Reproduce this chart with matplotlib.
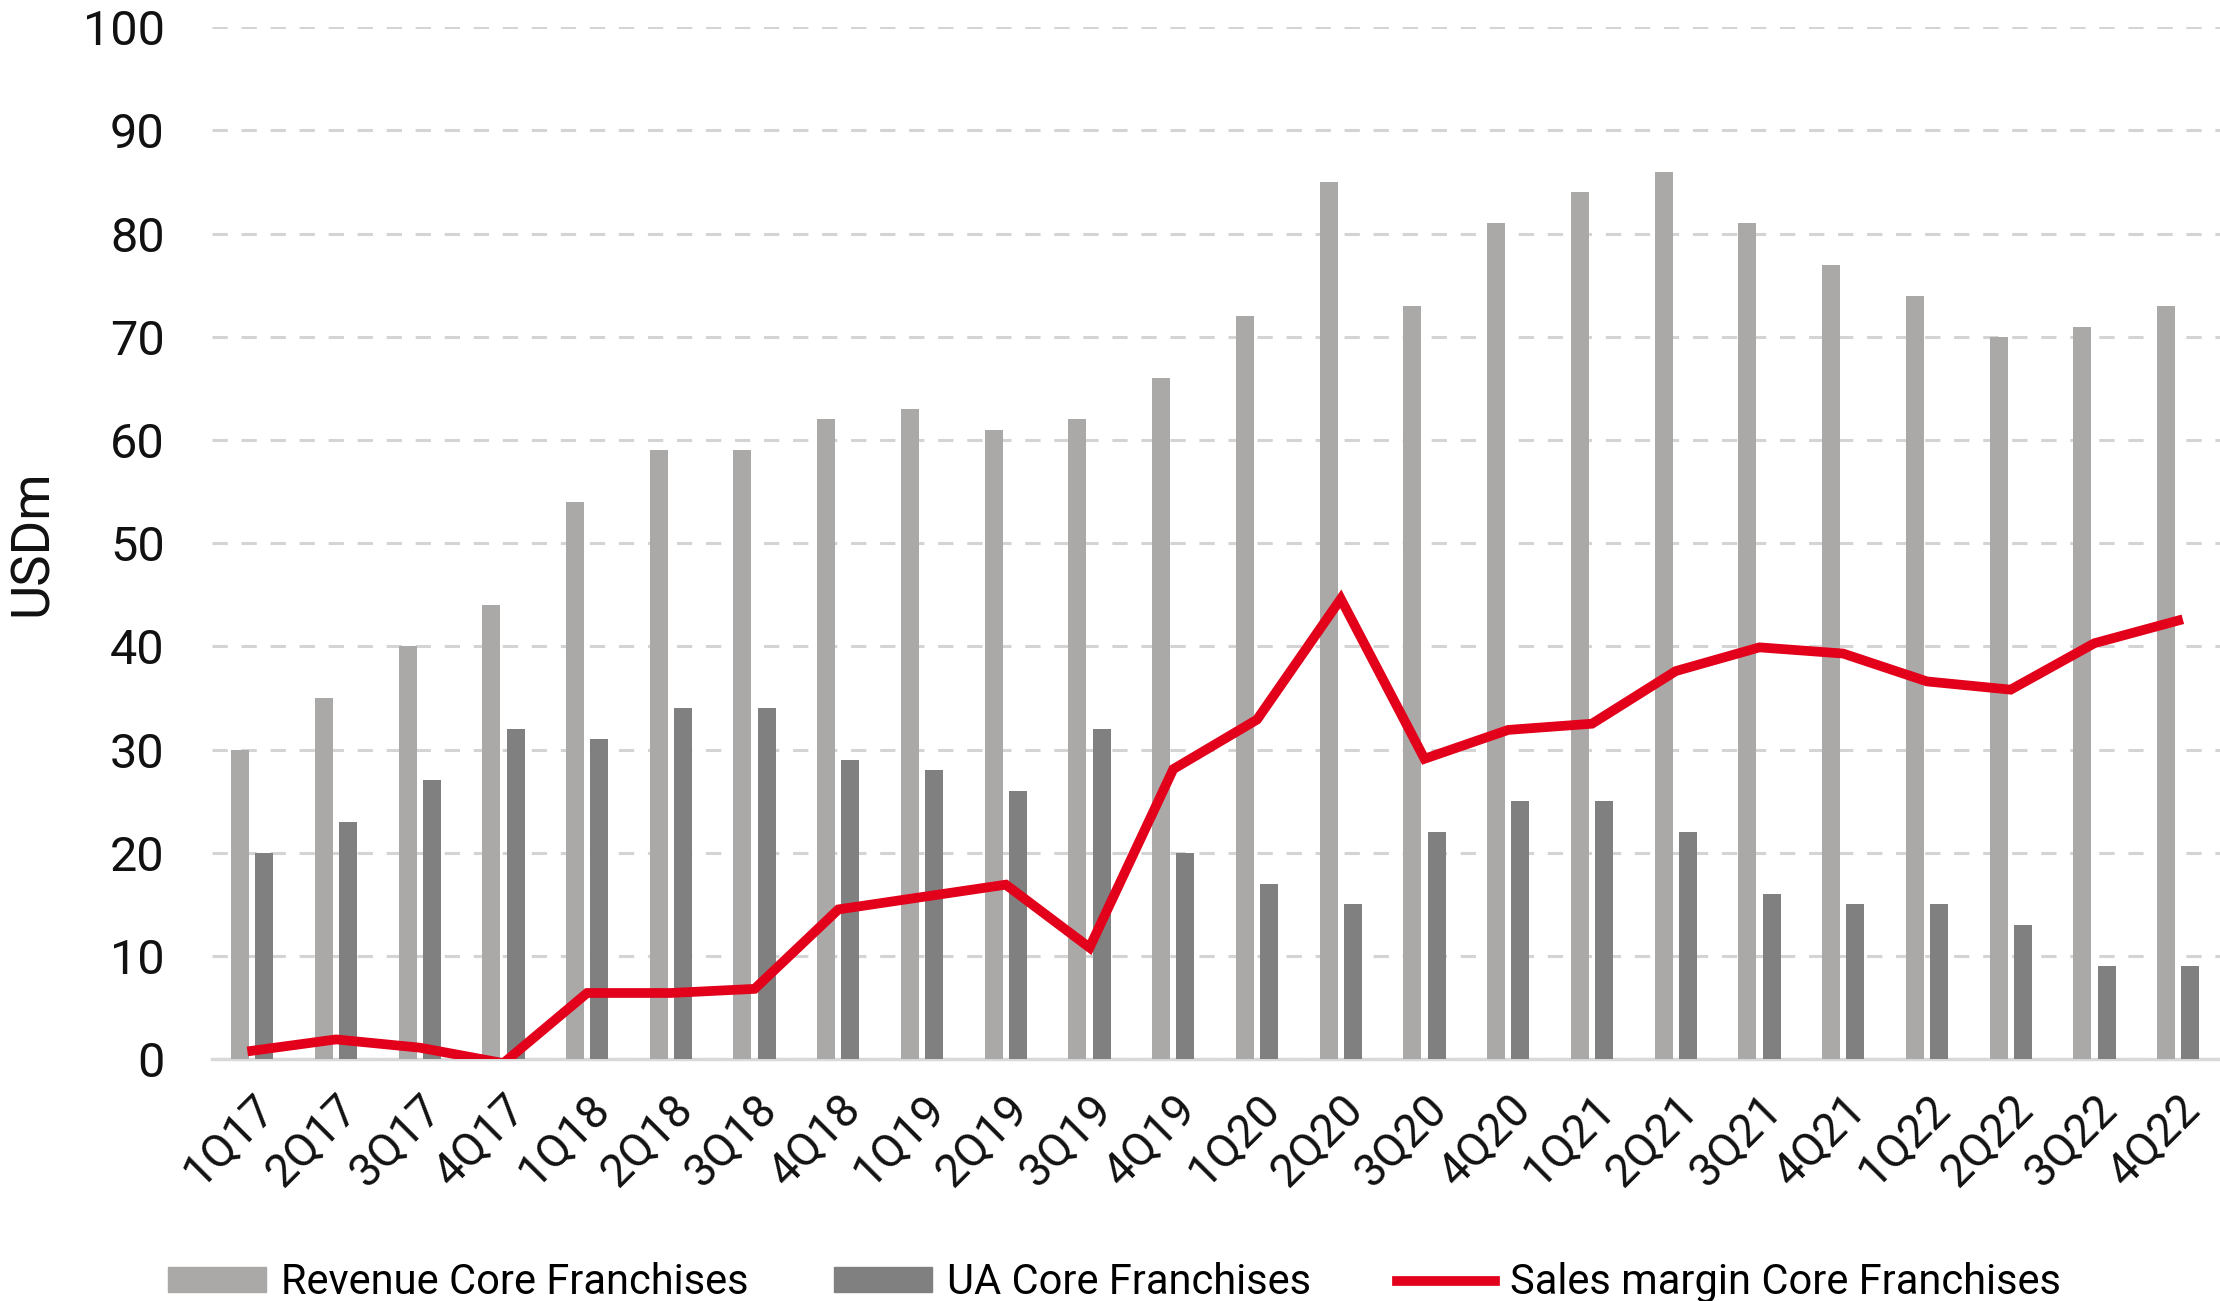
import numpy as np
import matplotlib.pyplot as plt
from matplotlib import font_manager
from matplotlib.lines import Line2D
from matplotlib.patches import Patch

quarters = ["1Q17", "2Q17", "3Q17", "4Q17", "1Q18", "2Q18", "3Q18", "4Q18",
            "1Q19", "2Q19", "3Q19", "4Q19", "1Q20", "2Q20", "3Q20", "4Q20",
            "1Q21", "2Q21", "3Q21", "4Q21", "1Q22", "2Q22", "3Q22", "4Q22"]
revenue = [30, 35, 40, 44, 54, 59, 59, 62, 63, 61, 62, 66,
           72, 85, 73, 81, 84, 86, 81, 77, 74, 70, 71, 73]
ua = [20, 23, 27, 32, 31, 34, 34, 29, 28, 26, 32, 20,
      17, 15, 22, 25, 25, 22, 16, 15, 15, 13, 9, 9]
sales_margin = [0.8, 1.9, 1.1, -0.4, 6.4, 6.4, 6.8, 14.5, 15.7, 16.9, 10.8, 28.1,
                32.9, 44.6, 29.1, 31.9, 32.5, 37.6, 39.9, 39.3, 36.6, 35.8, 40.3, 42.5]

plt.rcParams['font.family'] = ['Roboto', 'DejaVu Sans']

# narrow face for the legend if there is one
names = {f.name for f in font_manager.fontManager.ttflist}
if 'Liberation Sans Narrow' in names:
    legend_family = ['Liberation Sans Narrow', 'DejaVu Sans']
    legend_size = 37
else:
    legend_family = ['Roboto', 'DejaVu Sans']
    legend_size = 30

rev_color = '#aba8a8'
ua_color = '#808080'
red = '#e2001a'

fig = plt.figure(figsize=(22.2, 13.01), dpi=100)
ax = fig.add_axes([0.0955, 0.186, 0.9045, 0.793])

x = np.arange(len(quarters))
w = 0.215
ax.bar(x - 0.145, revenue, width=w, color=rev_color, zorder=2)
ax.bar(x + 0.145, ua, width=w, color=ua_color, zorder=2)
ax.plot(x, sales_margin, color=red, linewidth=7, zorder=3, solid_joinstyle='miter')

ax.set_xlim(-0.48, 23.5)
ax.set_ylim(0, 100)
ax.set_yticks(range(0, 101, 10))
ax.yaxis.grid(True, color='#d4d4d4', linewidth=2.2, linestyle=(0, (5, 4.5)), zorder=0)
ax.set_axisbelow(True)

for s in ['top', 'right', 'left']:
    ax.spines[s].set_visible(False)
ax.spines['bottom'].set_color('#d9d9d9')
ax.spines['bottom'].set_linewidth(2.5)
ax.spines['bottom'].set_zorder(1)

ax.tick_params(axis='y', length=0, pad=34, labelsize=35, labelcolor='#111111')
ax.tick_params(axis='x', length=0, pad=20, labelsize=33, labelcolor='#111111')
ax.set_xticks(x)
ax.set_xticklabels(quarters, rotation=45, ha='right', va='top', rotation_mode='anchor')

ax.set_ylabel("USDm", fontsize=38, color='#111111', labelpad=18)

handles = [Patch(color=rev_color), Patch(color=ua_color),
           Line2D([0], [0], color=red, linewidth=7)]
labels = ["Revenue Core Franchises", "UA Core Franchises", "Sales margin Core Franchises"]
fig.legend(handles, labels, loc='center', bbox_to_anchor=(0.502, 0.014), ncol=3,
           frameon=False, prop={'family': legend_family, 'size': legend_size},
           handlelength=2.35, handleheight=0.55,
           handletextpad=0.36, columnspacing=2.05, borderpad=0)

plt.savefig("out.png", dpi=100)
